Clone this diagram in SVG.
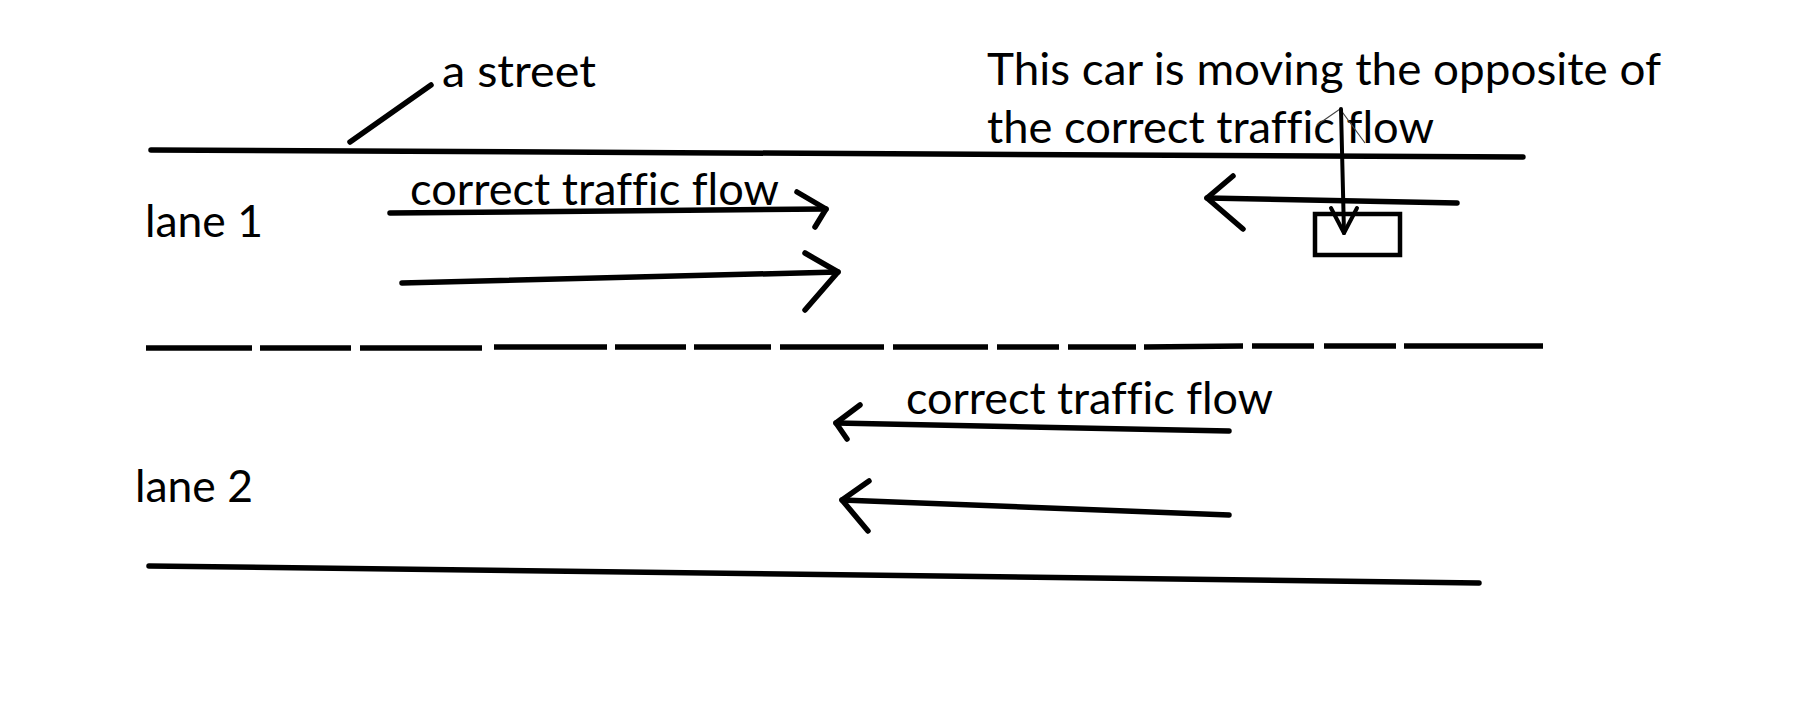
<svg xmlns="http://www.w3.org/2000/svg" width="1806" height="712" viewBox="0 0 1806 712">
<style>
.ln{fill:none;stroke:#000;stroke-width:5.5;stroke-linecap:round;stroke-linejoin:round}
.dash{fill:none;stroke:#000;stroke-width:5.5;stroke-linecap:butt}
.thin{fill:none;stroke:#444;stroke-width:1.2}
.t{font-family:Lato,"Open Sans","Liberation Sans",sans-serif;font-size:44px;fill:#000;font-variant-ligatures:none;font-feature-settings:"liga" 0}
</style>
<rect width="1806" height="712" fill="#fff"/>
<g id="street">
<line class="ln" x1="151" y1="150" x2="1523" y2="157"/>
<line class="ln" x1="149" y1="566" x2="1479" y2="583"/>
<g id="center-line">
<line class="dash" x1="146" y1="348" x2="252" y2="348"/>
<line class="dash" x1="260" y1="348" x2="351" y2="348"/>
<line class="dash" x1="360" y1="348" x2="482" y2="348"/>
<line class="dash" x1="494" y1="347" x2="607" y2="347"/>
<line class="dash" x1="615" y1="347" x2="686" y2="347"/>
<line class="dash" x1="694" y1="347" x2="771" y2="347"/>
<line class="dash" x1="780" y1="347" x2="884" y2="347"/>
<line class="dash" x1="893" y1="347" x2="988" y2="347"/>
<line class="dash" x1="997" y1="347" x2="1059" y2="347"/>
<line class="dash" x1="1068" y1="347" x2="1136" y2="347"/>
<line class="dash" x1="1144" y1="347" x2="1243" y2="346"/>
<line class="dash" x1="1252" y1="346" x2="1314" y2="346"/>
<line class="dash" x1="1324" y1="346" x2="1396" y2="346"/>
<line class="dash" x1="1404" y1="346" x2="1543" y2="346"/>
</g>
</g>
<g id="labels">
<text class="t" x="442" y="87" textLength="154" lengthAdjust="spacingAndGlyphs">a street</text>
<text class="t" x="145" y="237" textLength="118" lengthAdjust="spacingAndGlyphs">lane 1</text>
<text class="t" x="135" y="502" textLength="118" lengthAdjust="spacingAndGlyphs">lane 2</text>
<text class="t" x="410" y="205" textLength="369" lengthAdjust="spacingAndGlyphs">correct traffic flow</text>
<text class="t" x="906" y="414" textLength="367" lengthAdjust="spacingAndGlyphs">correct traffic flow</text>
<text class="t" x="987" y="85" textLength="674" lengthAdjust="spacingAndGlyphs">This car is moving the opposite of</text>
<text class="t" x="987" y="143" textLength="447" lengthAdjust="spacingAndGlyphs">the correct traffic flow</text>
</g>
<g id="connectors">
<line class="ln" x1="350" y1="142" x2="431" y2="85"/>
<g id="lane1-arrow1">
<line class="ln" x1="390" y1="213" x2="826" y2="209"/>
<polyline class="ln" points="797,192 826,209 815,227"/>
</g>
<g id="lane1-arrow2">
<line class="ln" x1="402" y1="283" x2="838" y2="272"/>
<polyline class="ln" points="805,253 838,272 805,310"/>
</g>
<g id="lane2-arrow1">
<line class="ln" x1="836" y1="423" x2="1229" y2="431"/>
<polyline class="ln" points="860,405 836,423 847,439"/>
</g>
<g id="lane2-arrow2">
<line class="ln" x1="842" y1="500" x2="1229" y2="515"/>
<polyline class="ln" points="869,481 842,500 868,531"/>
</g>
<g id="wrong-way-arrow">
<line class="ln" x1="1207" y1="198" x2="1457" y2="203"/>
<polyline class="ln" points="1233,176 1207,198 1243,229"/>
</g>
<g id="pointer-arrow">
<polyline class="thin" points="1317,125 1340,109 1365,143"/>
<line class="ln" style="stroke-width:4" x1="1341" y1="109" x2="1344" y2="233"/>
<polyline class="ln" style="stroke-width:4" points="1331,208 1344,233 1357,208"/>
</g>
</g>
<g id="car">
<rect x="1315" y="214" width="85" height="41" fill="none" stroke="#000" stroke-width="4.5"/>
</g>
</svg>
